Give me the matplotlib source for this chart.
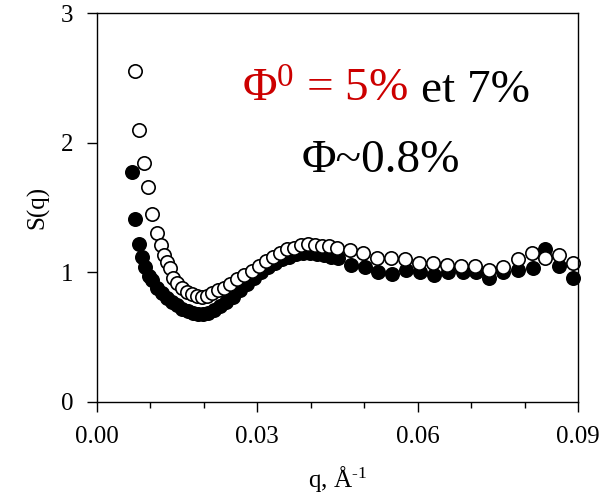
import numpy as np
import matplotlib
matplotlib.use('Agg')
import matplotlib.pyplot as plt
from matplotlib.ticker import MultipleLocator

plt.rcParams['font.family'] = ['Liberation Serif', 'DejaVu Serif']
plt.rcParams['mathtext.fontset'] = 'custom'
plt.rcParams['mathtext.rm'] = 'Liberation Serif'
plt.rcParams['mathtext.it'] = 'Liberation Serif:italic'

# open circles
q_open = [0.0071, 0.0079, 0.0088, 0.0096, 0.0103, 0.0112, 0.0120, 0.0125, 0.0131,
          0.0137, 0.0142, 0.0150, 0.0159, 0.0169, 0.0178, 0.0187, 0.0197, 0.0206,
          0.0215, 0.0227, 0.0238, 0.0249, 0.0262, 0.0275, 0.0290, 0.0303, 0.0316,
          0.0330, 0.0343, 0.0356, 0.0369, 0.0382, 0.0395, 0.0408, 0.0421, 0.0434,
          0.0449, 0.0474, 0.0498, 0.0524, 0.0551, 0.0577, 0.0603, 0.0629, 0.0655,
          0.0682, 0.0708, 0.0734, 0.0760, 0.0787, 0.0813, 0.0839, 0.0865, 0.0891]
s_open = [2.55, 2.10, 1.84, 1.66, 1.45, 1.30, 1.21, 1.13, 1.08,
          1.03, 0.96, 0.92, 0.88, 0.85, 0.83, 0.82, 0.81, 0.82,
          0.84, 0.86, 0.88, 0.91, 0.95, 0.98, 1.01, 1.05, 1.09,
          1.12, 1.15, 1.18, 1.19, 1.21, 1.22, 1.21, 1.20, 1.20,
          1.19, 1.17, 1.15, 1.11, 1.11, 1.10, 1.07, 1.07, 1.06,
          1.05, 1.05, 1.02, 1.04, 1.10, 1.15, 1.11, 1.13, 1.07]

# filled circles
q_fill = [0.0065, 0.0071, 0.0079, 0.0084, 0.0090, 0.0097, 0.0103, 0.0112, 0.0122,
          0.0131, 0.0140, 0.0150, 0.0159, 0.0170, 0.0180, 0.0189, 0.0198, 0.0208,
          0.0219, 0.0230, 0.0242, 0.0255, 0.0268, 0.0281, 0.0294, 0.0307, 0.0320,
          0.0333, 0.0346, 0.0360, 0.0373, 0.0386, 0.0399, 0.0412, 0.0425, 0.0438,
          0.0451, 0.0476, 0.0502, 0.0526, 0.0552, 0.0579, 0.0605, 0.0631, 0.0657,
          0.0684, 0.0710, 0.0734, 0.0760, 0.0787, 0.0815, 0.0839, 0.0865, 0.0891]
s_fill = [1.77, 1.41, 1.22, 1.12, 1.04, 0.97, 0.94, 0.88, 0.84,
          0.80, 0.77, 0.75, 0.72, 0.70, 0.69, 0.68, 0.68, 0.69,
          0.71, 0.74, 0.77, 0.81, 0.86, 0.91, 0.96, 1.00, 1.04,
          1.07, 1.10, 1.12, 1.14, 1.15, 1.15, 1.14, 1.13, 1.12,
          1.11, 1.06, 1.04, 1.00, 0.99, 1.02, 1.00, 0.98, 1.00,
          1.00, 1.00, 0.96, 1.00, 1.02, 1.03, 1.18, 1.05, 0.96]

fig = plt.figure(figsize=(6.08, 4.99), dpi=100)
ax = fig.add_axes([97 / 608, 97 / 499, 481 / 608, 389 / 499])

ax.plot(q_fill, s_fill, 'o', ms=9.6, mfc='black', mec='black', mew=1.2, ls='none', clip_on=False)
ax.plot(q_open, s_open, 'o', ms=9.6, mfc='white', mec='black', mew=1.2, ls='none', clip_on=False)

ax.set_xlim(0, 0.09)
ax.set_ylim(0, 3)
ax.set_xticks([0.0, 0.03, 0.06, 0.09])
ax.set_xticklabels(['0.00', '0.03', '0.06', '0.09'])
ax.xaxis.set_minor_locator(MultipleLocator(0.01))
ax.set_yticks([0, 1, 2, 3])

for sp in ax.spines.values():
    sp.set_linewidth(1.0)
ax.tick_params(axis='both', which='major', direction='out', length=7, width=1.0,
               labelsize=18, top=False, right=False)
ax.tick_params(axis='x', which='major', pad=10)
ax.tick_params(axis='y', which='major', pad=10)
ax.tick_params(axis='x', which='minor', direction='out', length=4, width=1.0, top=False)

ax.set_xlabel('q, Å$^{\\text{-1}}$', fontsize=18, labelpad=12)
ax.set_ylabel('S(q)', fontsize=18, labelpad=8)

ax.text(0.301, 0.771, 'Φ$^0$ = 5%', color='#cc0000', fontsize=34,
        transform=ax.transAxes, ha='left', va='baseline')
ax.text(0.674, 0.771, 'et 7%', color='black', fontsize=34,
        transform=ax.transAxes, ha='left', va='baseline')
ax.text(0.426, 0.591, 'Φ~0.8%', color='black', fontsize=34,
        transform=ax.transAxes, ha='left', va='baseline')

fig.savefig('out.png', dpi=100)
